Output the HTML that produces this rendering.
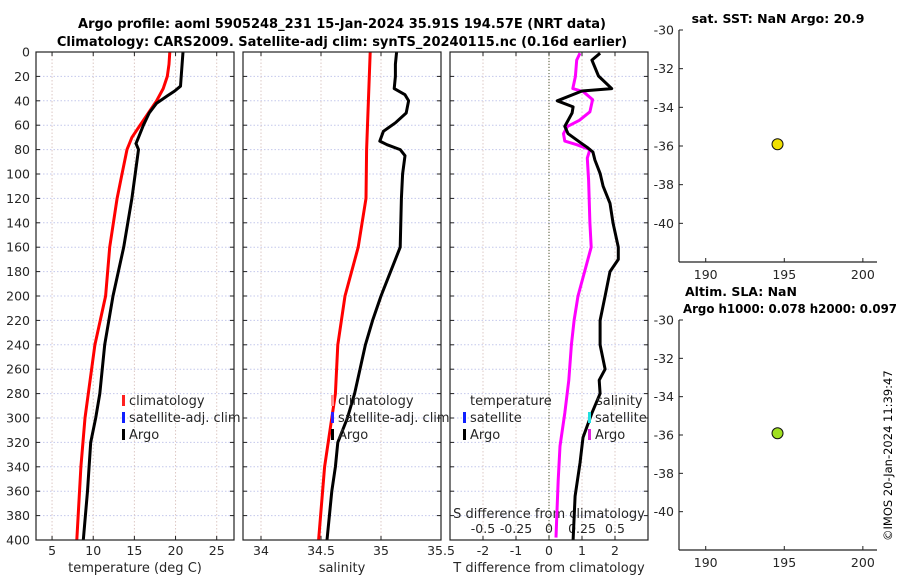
<!DOCTYPE html>
<html><head><meta charset="utf-8"><style>
html,body{margin:0;padding:0;background:#fff}
svg{display:block;font-family:"DejaVu Sans","Liberation Sans",sans-serif}
</style></head><body>
<svg id="c" width="900" height="580" viewBox="0 0 900 580">
<text x="342" y="28" text-anchor="middle" font-size="13" font-weight="bold">Argo profile: aoml 5905248_231 15-Jan-2024 35.91S 194.57E (NRT data)</text>
<text x="342" y="46" text-anchor="middle" font-size="13" font-weight="bold">Climatology: CARS2009. Satellite-adj clim: synTS_20240115.nc (0.16d earlier)</text>
<text x="778" y="23" text-anchor="middle" font-size="12.5" font-weight="bold">sat. SST: NaN Argo: 20.9</text>
<text x="685" y="296" font-size="12.5" font-weight="bold">Altim. SLA: NaN</text>
<text x="683" y="313" font-size="12" font-weight="bold" textLength="214" lengthAdjust="spacingAndGlyphs">Argo h1000: 0.078 h2000: 0.097</text>
<text transform="translate(892,541) rotate(-90)" font-size="11.5">©IMOS 20-Jan-2024 11:39:47</text>
<g id="g"></g>
</svg>
<script>
// ---- data ----
const tClimDepth = [0,10,20,30,40,50,60,70,80,100,120,160,200,240,280,300,340,400];
const tClim = [19.3,19.2,19.0,18.5,17.7,16.7,15.7,14.7,14.1,13.5,12.9,12.0,11.5,10.2,9.4,9.0,8.5,8.0];
const tArgoDepth = [0,10,28,32,36,42,50,60,70,75,80,100,120,160,200,240,280,300,320,360,400];
const tArgo = [20.9,20.8,20.6,19.9,19.0,17.7,16.8,16.1,15.5,15.2,15.5,15.1,14.7,13.7,12.4,11.4,10.8,10.3,9.7,9.3,8.8];
const sClimDepth = [0,80,120,160,200,240,280,300,340,400];
const sClim = [34.91,34.88,34.875,34.81,34.70,34.64,34.62,34.59,34.53,34.48];
const sArgoDepth = [0,10,20,30,35,40,50,58,65,73,76,80,85,100,120,160,180,200,220,240,280,300,320,340,360,400];
const sArgo = [35.13,35.12,35.12,35.11,35.2,35.23,35.21,35.12,35.02,34.99,35.05,35.16,35.2,35.18,35.17,35.16,35.08,35.0,34.93,34.87,34.78,34.72,34.64,34.62,34.59,34.55];
const tDiffDepth = [1,6.6,19.7,30,32,40,45,50,61,67,74,78,82,88.5,99.5,110,124,140,160,170,180,200,220,240,260,269,280,296,316,337,364,400];
const tDiff = [1.55,1.3,1.5,1.9,1.0,0.25,0.73,0.7,0.48,0.58,0.94,1.15,1.33,1.39,1.55,1.64,1.85,1.94,2.1,2.1,1.85,1.7,1.55,1.55,1.7,1.52,1.55,1.3,1.03,0.94,0.79,0.73];
const sDiffDepth = [1,6.6,20,30,32.5,39,49,56,61,67,73,76,80,87,105,140,160,180,200,220,240,269,296,323,351,378,398];
const sDiff = [0.235,0.21,0.2,0.18,0.26,0.33,0.31,0.23,0.14,0.11,0.12,0.21,0.31,0.29,0.3,0.31,0.32,0.27,0.22,0.19,0.17,0.15,0.12,0.083,0.07,0.06,0.053];
const depthTicks = [0,20,40,60,80,100,120,140,160,180,200,220,240,260,280,300,320,340,360,380,400];
const tTicks = [5,10,15,20,25];
const sTicks = [34,34.5,35,35.5];
const dTicks = [-2,-1,0,1,2];
const sdTicks = [-0.5,-0.25,0,0.25,0.5];
const sdTickLabels = ['-0.5','-0.25','0','0.25','0.5'];
const lonTicks = [190,195,200];
const latTicks = [-30,-32,-34,-36,-38,-40];
const floatLon = [194.57];
const floatLat = [-35.91];

const NS='http://www.w3.org/2000/svg', G=document.getElementById('g');
function mk(tag,attrs,parent){const e=document.createElementNS(NS,tag);for(const k in attrs)e.setAttribute(k,attrs[k]);(parent||G).appendChild(e);return e;}
function txt(x,y,s,anchor,size,parent){const e=mk('text',{x:x,y:y,'text-anchor':anchor||'middle','font-size':size||12.5,fill:'#262626'},parent);e.textContent=s;return e;}

const yTop=52, yBot=540;
const yD = d => yTop + d*(yBot-yTop)/400;
function panel(x0,x1,xmin,xmax,name){
  const g=mk('g',{});
  
  
  const sx=v=>x0+(v-xmin)*(x1-x0)/(xmax-xmin);
  depthTicks.forEach(d=>{ if(d>0&&d<400) mk('line',{x1:x0,x2:x1,y1:yD(d),y2:yD(d),stroke:'#c4c8ec','stroke-width':1,'stroke-dasharray':'1.5 2'},g);
    mk('line',{x1:x0,x2:x0+4,y1:yD(d),y2:yD(d),stroke:'#222'},g);
    mk('line',{x1:x1-4,x2:x1,y1:yD(d),y2:yD(d),stroke:'#222'},g);});
  return {g,sx};
}
function poly(depths,vals,sx,color,g,name){
  const pts=depths.map((d,i)=>sx(vals[i]).toFixed(1)+','+yD(d).toFixed(1)).join(' ');
  const p=mk('polyline',{points:pts,fill:'none',stroke:color,'stroke-width':3,'stroke-linejoin':'round'},g);
  
  
}
function vgrid(ticks,sx,g){ticks.forEach(t=>{const x=sx(t);mk('line',{x1:x,x2:x,y1:yTop,y2:yBot,stroke:'#dcc8c4','stroke-width':1,'stroke-dasharray':'1.5 2'},g);
  mk('line',{x1:x,x2:x,y1:yBot-4,y2:yBot,stroke:'#222'},g);mk('line',{x1:x,x2:x,y1:yTop,y2:yTop+4,stroke:'#222'},g);});}
function legend(g,x,y,items){items.forEach((it,i)=>{mk('rect',{x:x,y:y+i*17-10,width:3,height:11,fill:it[0]},g);const t=txt(x+7,y+i*17,it[1],'start',13,g);});}

// Panel 1 temperature
let P=panel(36,234,3.05,27.1,'temperature-panel');
vgrid(tTicks,P.sx,P.g);
depthTicks.forEach(d=>txt(30,yD(d)+4.5,String(d),'end',12.5,P.g));
tTicks.forEach(t=>txt(P.sx(t),555,String(t),'middle',12.5,P.g));
txt(135,572,'temperature (deg C)','middle',13,P.g);
poly(tClimDepth,tClim,P.sx,'#ff0000',P.g,'temperature-climatology-line');
poly(tArgoDepth,tArgo,P.sx,'#000',P.g,'temperature-argo-line');
mk('rect',{x:36,y:yTop,width:198,height:yBot-yTop,fill:'none',stroke:'#222','stroke-width':1.2},P.g);
legend(P.g,122,405,[['#ff2020','climatology'],['#1020ff','satellite-adj. clim'],['#000','Argo']]);

// Panel 2 salinity
P=panel(243,441,33.85,35.5,'salinity-panel');
vgrid(sTicks,P.sx,P.g);
sTicks.forEach(t=>txt(P.sx(t),555,String(t),'middle',12.5,P.g));
txt(342,572,'salinity','middle',13,P.g);
poly(sClimDepth,sClim,P.sx,'#ff0000',P.g,'salinity-climatology-line');
poly(sArgoDepth,sArgo,P.sx,'#000',P.g,'salinity-argo-line');
mk('rect',{x:243,y:yTop,width:198,height:yBot-yTop,fill:'none',stroke:'#222','stroke-width':1.2},P.g);
legend(P.g,331,405,[['#ff9090','climatology'],['#3020ff','satellite-adj. clim'],['#000','Argo']]);

// Panel 3 differences
P=panel(450,648,-3,3,'difference-panel');
vgrid(dTicks,P.sx,P.g);
mk('line',{x1:P.sx(0),x2:P.sx(0),y1:yTop,y2:yBot,stroke:'#4a5a30','stroke-width':1,'stroke-dasharray':'1 2'},P.g);
dTicks.forEach(t=>txt(P.sx(t),555,String(t),'middle',12.5,P.g));
txt(549,572,'T difference from climatology','middle',13,P.g);
txt(549,518,'S difference from climatology','middle',13,P.g);
sdTicks.forEach((t,i)=>txt(P.sx(t*4),533,sdTickLabels[i],'middle',12.5,P.g));
poly(sDiffDepth,sDiff.map(v=>v*4),P.sx,'#ff00ff',P.g,'salinity-difference-line');
poly(tDiffDepth,tDiff,P.sx,'#000',P.g,'temperature-difference-line');
mk('rect',{x:450,y:yTop,width:198,height:yBot-yTop,fill:'none',stroke:'#222','stroke-width':1.2},P.g);
txt(470,405,'temperature','start',13,P.g);
txt(596,405,'salinity','start',13,P.g);
legend(P.g,463,422,[['#1020ff','satellite'],['#000','Argo']]);
legend(P.g,588,422,[['#20e0e0','satellite'],['#e020e0','Argo']]);

// Map panels
function mapPanel(yT,yB,color,name){
  const g=mk('g',{});
  
  
  const x0=679,x1=877,lonMin=188.3,lonMax=200.9,latMax=-30,latMin=-42;
  const sx=v=>x0+(v-lonMin)*(x1-x0)/(lonMax-lonMin);
  const sy=v=>yT+(latMax-v)*(yB-yT)/(latMax-latMin);
  mk('line',{x1:x0,x2:x0,y1:yT,y2:yB,stroke:'#222','stroke-width':1.2},g);
  mk('line',{x1:x0,x2:x1,y1:yB,y2:yB,stroke:'#222','stroke-width':1.2},g);
  latTicks.forEach(t=>{mk('line',{x1:x0,x2:x0+4,y1:sy(t),y2:sy(t),stroke:'#222'},g);txt(x0-5,sy(t)+4.5,String(t),'end',12.5,g);});
  lonTicks.forEach(t=>{mk('line',{x1:sx(t),x2:sx(t),y1:yB-4,y2:yB,stroke:'#222'},g);txt(sx(t),yB+17,String(t),'middle',12.5,g);});
  const c=mk('circle',{cx:sx(floatLon[0]),cy:sy(floatLat[0]),r:5.5,fill:color,stroke:'#111','stroke-width':1},g);
  
  
}
mapPanel(30,262,'#f0e000','sst-map-panel');
mapPanel(320,550,'#a0e020','sla-map-panel');
</script>
</body></html>
